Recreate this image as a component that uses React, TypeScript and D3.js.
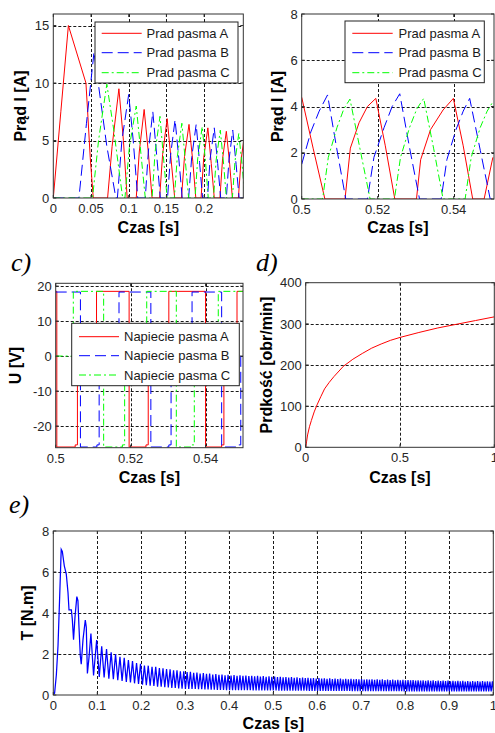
import { useEffect, useRef } from "react";
import * as d3 from "d3";

type Pt = [number, number];

// a) phase currents during start-up [s, A]
const currentA_start: Pt[] = [
  [0, 0], [0.01, 7.5], [0.02, 15], [0.0433, 10], [0.046, 7], [0.049, 3.5], [0.053, 0],
  [0.072, 0], [0.078, 4.5], [0.087, 9.5], [0.093, 5], [0.098, 0],
  [0.11, 0], [0.114, 4], [0.1205, 7.7], [0.126, 4], [0.131, 0],
  [0.141, 0], [0.145, 3.8], [0.151, 6.9], [0.156, 3.5], [0.161, 0],
  [0.17, 0], [0.174, 3.6], [0.18, 6.4], [0.185, 3.2], [0.189, 0],
  [0.196, 0], [0.1995, 3.5], [0.205, 6.1], [0.2095, 3], [0.2135, 0],
  [0.221, 0], [0.2245, 3.4], [0.2295, 5.8], [0.234, 2.9], [0.2375, 0],
  [0.2455, 0], [0.249, 3.3], [0.2535, 5.4],
];
const currentB_start: Pt[] = [
  [0, 0], [0.034, 0], [0.044, 6.5], [0.054, 12.7], [0.06, 9.8], [0.071, 4.5], [0.083, 0],
  [0.085, 0], [0.091, 5], [0.1, 9.0], [0.106, 5], [0.112, 0],
  [0.122, 0], [0.126, 4], [0.132, 7.5], [0.137, 3.8], [0.142, 0],
  [0.1515, 0], [0.1555, 3.7], [0.1615, 6.8], [0.1665, 3.4], [0.171, 0],
  [0.1795, 0], [0.1835, 3.5], [0.1895, 6.4], [0.194, 3.1], [0.198, 0],
  [0.2045, 0], [0.208, 3.4], [0.2135, 6.1], [0.218, 3], [0.222, 0],
  [0.2295, 0], [0.233, 3.3], [0.238, 5.9], [0.2425, 2.9], [0.2465, 0],
  [0.2535, 0],
];
const currentC_start: Pt[] = [
  [0, 0], [0.052, 0], [0.06, 5], [0.071, 9.9], [0.08, 6], [0.092, 0],
  [0.095, 0], [0.101, 4.5], [0.11, 8.0], [0.116, 4], [0.122, 0],
  [0.131, 0], [0.135, 4], [0.1415, 7.1], [0.146, 3.6], [0.151, 0],
  [0.1605, 0], [0.1645, 3.6], [0.1705, 6.5], [0.175, 3.3], [0.1795, 0],
  [0.188, 0], [0.1915, 3.4], [0.1975, 6.2], [0.202, 3.1], [0.2055, 0],
  [0.2125, 0], [0.216, 3.3], [0.2215, 5.9], [0.226, 2.9], [0.2295, 0],
  [0.2375, 0], [0.241, 3.2], [0.246, 5.6], [0.2505, 2.8], [0.2535, 0.5],
];

// b) phase currents in steady state [s, A]
const currentA_steady: Pt[] = [
  [0.5, 4.4], [0.503, 2.2], [0.5061, 0], [0.5114, 0], [0.5128, 2.2], [0.5151, 3.3], [0.5173, 4.0],
  [0.5195, 4.35], [0.522, 2.3], [0.5245, 0], [0.5302, 0], [0.5313, 1.7], [0.5339, 3.0],
  [0.5372, 3.85], [0.5399, 4.35], [0.5425, 2.3], [0.545, 0], [0.548, 0], [0.5503, 1.8],
];
const currentB_steady: Pt[] = [
  [0.5, 1.5], [0.5024, 2.9], [0.5046, 3.8], [0.5068, 4.5], [0.5092, 2.2], [0.5116, 0],
  [0.5173, 0], [0.519, 1.8], [0.5217, 3.1], [0.5238, 4.0], [0.5258, 4.55], [0.5284, 2.2], [0.531, 0],
  [0.5367, 0], [0.5382, 1.7], [0.5406, 3.0], [0.5425, 3.8], [0.5442, 4.35], [0.547, 2.1], [0.5496, 0],
  [0.5503, 0],
];
const currentC_steady: Pt[] = [
  [0.5, 0], [0.5055, 0], [0.507, 1.8], [0.5093, 3.1], [0.5111, 3.9], [0.5127, 4.32], [0.5153, 2.2], [0.518, 0],
  [0.5244, 0], [0.526, 1.8], [0.5284, 3.1], [0.5303, 3.9], [0.5321, 4.35], [0.5347, 2.2], [0.5372, 0],
  [0.543, 0], [0.5446, 1.8], [0.547, 3.1], [0.5488, 3.8], [0.5503, 4.2],
];

// c) phase voltages: switching instants [s, V], each level held until the next one
const voltageA: Pt[] = [
  [0.5, 18.5], [0.5003, -26], [0.5052, -25.4], [0.5058, 0], [0.5109, 18.5], [0.5196, -26],
  [0.5241, -25.4], [0.5247, 0], [0.5302, 18.5], [0.54, -26], [0.5443, -25.4], [0.5449, 0],
  [0.5484, 18.5], [0.5503, 18.5],
];
const voltageB: Pt[] = [
  [0.5, 18.3], [0.5066, -26], [0.511, -25.4], [0.5116, 0], [0.5169, 18.3], [0.5254, -26],
  [0.5302, -25.4], [0.5308, 0], [0.5364, 18.3], [0.5443, -26], [0.5488, -25.4], [0.5494, 0],
  [0.5503, 0],
];
const voltageC: Pt[] = [
  [0.5, 0], [0.5047, 18.5], [0.5128, -26], [0.5178, -25.4], [0.5184, 0], [0.5243, 18.5],
  [0.5322, -26], [0.5364, -25.4], [0.537, 0], [0.5434, 18.5], [0.5503, 18.5],
];

// d) rotor speed [s, obr/min]
const speed: Pt[] = [
  [0, 0], [0.005, 15], [0.01, 30], [0.02, 50], [0.03, 65], [0.045, 86], [0.06, 103], [0.08, 123],
  [0.1, 142], [0.125, 158], [0.15, 172], [0.2, 197], [0.25, 214], [0.3, 228], [0.35, 241],
  [0.4, 251], [0.45, 260], [0.5, 267], [0.6, 279], [0.7, 290], [0.8, 299], [0.9, 308], [1.0, 317],
];

// e) torque: start-up transient [s, N.m]
const torqueStart: Pt[] = [
  [0, 0], [0.003, 0.1], [0.007, 1.0], [0.0107, 2.4], [0.0145, 4.8], [0.018, 7.1], [0.0205, 7.0],
  [0.025, 6.3], [0.0295, 5.9], [0.0334, 5.0], [0.0357, 4.15], [0.041, 4.15], [0.0432, 3.7],
  [0.046, 2.7], [0.0493, 3.8], [0.0535, 4.8], [0.056, 4.6], [0.0584, 3.3], [0.0614, 1.9],
  [0.0635, 1.5], [0.0675, 2.7], [0.0727, 3.66], [0.075, 3.3], [0.0775, 1.05], [0.081, 1.8],
  [0.0855, 3.0], [0.0915, 0.95], [0.0985, 2.68], [0.1045, 0.88],
];
// e) torque ripple: [time of peak, peak, following trough]
const torqueRipple: [number, number, number][] = [
  [0.11, 2.38, 0.86], [0.121, 2.24, 0.8], [0.1315, 2.08, 0.77], [0.1415, 2.0, 0.72], [0.1515, 1.86, 0.69],
  [0.1612, 1.82, 0.64], [0.1707, 1.7, 0.61], [0.18, 1.66, 0.57], [0.1892, 1.56, 0.54], [0.1982, 1.52, 0.5],
  [0.2071, 1.44, 0.48], [0.2158, 1.43, 0.45], [0.2244, 1.38, 0.44], [0.2328, 1.37, 0.41], [0.2411, 1.31, 0.4],
  [0.2493, 1.3, 0.38], [0.2574, 1.26, 0.37], [0.2654, 1.25, 0.35], [0.2733, 1.2, 0.34], [0.2811, 1.21, 0.32],
  [0.2888, 1.15, 0.31], [0.2965, 1.16, 0.3], [0.3041, 1.12, 0.3], [0.3116, 1.13, 0.29], [0.319, 1.08, 0.29],
  [0.3264, 1.1, 0.28], [0.3337, 1.05, 0.28], [0.341, 1.07, 0.27], [0.3482, 1.03, 0.27], [0.3553, 1.05, 0.26],
  [0.3624, 1.0, 0.26], [0.3694, 1.02, 0.25], [0.3764, 0.98, 0.25], [0.3834, 1.0, 0.25], [0.3903, 0.96, 0.24],
  [0.3972, 0.98, 0.24], [0.404, 0.95, 0.24], [0.4108, 0.97, 0.24], [0.4176, 0.94, 0.23], [0.4243, 0.96, 0.23],
  [0.431, 0.93, 0.23], [0.4377, 0.95, 0.23], [0.4444, 0.92, 0.23], [0.451, 0.94, 0.22], [0.4576, 0.91, 0.22],
  [0.4642, 0.93, 0.22], [0.4707, 0.9, 0.22], [0.4772, 0.92, 0.22], [0.4837, 0.89, 0.22], [0.4902, 0.91, 0.22],
  [0.4967, 0.89, 0.22], [0.5031, 0.9, 0.22], [0.5095, 0.87, 0.21], [0.5159, 0.89, 0.21], [0.5223, 0.86, 0.21],
  [0.5287, 0.88, 0.21], [0.535, 0.85, 0.21], [0.5413, 0.87, 0.21], [0.5476, 0.84, 0.21], [0.5539, 0.86, 0.21],
  [0.5602, 0.83, 0.21], [0.5665, 0.85, 0.21], [0.5727, 0.82, 0.21], [0.5789, 0.84, 0.2], [0.5851, 0.81, 0.2],
  [0.5913, 0.83, 0.2], [0.5975, 0.8, 0.2], [0.6037, 0.82, 0.2], [0.6099, 0.8, 0.2], [0.616, 0.81, 0.2],
  [0.6221, 0.79, 0.2], [0.6282, 0.81, 0.2], [0.6343, 0.78, 0.2], [0.6404, 0.8, 0.2], [0.6465, 0.78, 0.2],
  [0.6526, 0.8, 0.2], [0.6586, 0.77, 0.2], [0.6646, 0.79, 0.2], [0.6706, 0.77, 0.2], [0.6766, 0.79, 0.19],
  [0.6826, 0.76, 0.19], [0.6886, 0.78, 0.19], [0.6946, 0.76, 0.19], [0.7006, 0.78, 0.19], [0.7066, 0.75, 0.19],
  [0.7125, 0.77, 0.19], [0.7184, 0.75, 0.19], [0.7243, 0.77, 0.19], [0.7302, 0.74, 0.19], [0.7361, 0.76, 0.19],
  [0.742, 0.74, 0.19], [0.7479, 0.76, 0.19], [0.7538, 0.73, 0.19], [0.7597, 0.75, 0.19], [0.7656, 0.73, 0.19],
  [0.7714, 0.75, 0.19], [0.7772, 0.72, 0.19], [0.783, 0.74, 0.19], [0.7888, 0.72, 0.19], [0.7946, 0.74, 0.18],
  [0.8004, 0.71, 0.18], [0.8062, 0.73, 0.18], [0.812, 0.71, 0.18], [0.8177, 0.73, 0.18], [0.8234, 0.7, 0.18],
  [0.8291, 0.72, 0.18], [0.8348, 0.7, 0.18], [0.8405, 0.72, 0.18], [0.8462, 0.69, 0.18], [0.8519, 0.71, 0.18],
  [0.8576, 0.69, 0.18], [0.8633, 0.71, 0.18], [0.869, 0.68, 0.18], [0.8747, 0.7, 0.18], [0.8803, 0.68, 0.18],
  [0.8859, 0.7, 0.18], [0.8915, 0.68, 0.18], [0.8971, 0.7, 0.18], [0.9027, 0.67, 0.18], [0.9083, 0.69, 0.18],
  [0.9139, 0.67, 0.18], [0.9195, 0.69, 0.18], [0.9251, 0.67, 0.17], [0.9307, 0.69, 0.17], [0.9363, 0.66, 0.17],
  [0.9419, 0.68, 0.17], [0.9475, 0.66, 0.17], [0.9531, 0.68, 0.17], [0.9587, 0.66, 0.17], [0.9643, 0.68, 0.17],
  [0.9699, 0.66, 0.17], [0.9755, 0.68, 0.17], [0.9811, 0.65, 0.17], [0.9867, 0.67, 0.17], [0.9923, 0.65, 0.17],
  [0.9979, 0.67, 0.17],
];

const currentLegend = ["Prad pasma A", "Prad pasma B", "Prad pasma C"];
const voltageLegend = ["Napiecie pasma A", "Napiecie pasma B", "Napiecie pasma C"];

const ticksX_start = [0, 0.05, 0.1, 0.15, 0.2];
const ticksX_steady = [0.5, 0.52, 0.54];
const ticksX_speed = [0, 0.5, 1];
const ticksX_torque = [0, 0.1, 0.2, 0.3, 0.4, 0.5, 0.6, 0.7, 0.8, 0.9, 1];
const ticksY_start = [0, 5, 10, 15];
const ticksY_steady = [0, 2, 4, 6, 8];
const ticksY_voltage = [-20, -10, 0, 10, 20];
const ticksY_speed = [0, 100, 200, 300, 400];
const ticksY_torque = [0, 2, 4, 6, 8];

const SANS = "'Liberation Sans', Arial, Helvetica, sans-serif";
const SERIF = "'Liberation Serif', 'Times New Roman', serif";
const RED = "#ff0000";
const BLUE = "#0000ff";
const GREEN = "#00ff00";
const DASH_B = "11,5";
const DASH_C = "7,3,2,3";

type Sel = d3.Selection<any, unknown, null, undefined>;

interface Panel {
  id: string;
  left: number; right: number; top: number; bottom: number;
  xDomain: [number, number]; yDomain: [number, number];
  xTicks: number[]; yTicks: number[];
  xLabel: string; yLabel: string;
  xLabelY: number; yLabelX: number;
}

function App() {
  const ref = useRef<SVGSVGElement>(null);

  useEffect(() => {
    const svg = d3.select(ref.current);
    svg.selectAll("*").remove();
    const defs = svg.append("defs");

    // grid, clip area and scales for one subplot
    function startPanel(p: Panel) {
      const x = d3.scaleLinear().domain(p.xDomain).range([p.left, p.right]);
      const y = d3.scaleLinear().domain(p.yDomain).range([p.bottom, p.top]);
      const g = svg.append("g");
      g.append("rect")
        .attr("x", p.left).attr("y", p.top)
        .attr("width", p.right - p.left).attr("height", p.bottom - p.top)
        .attr("fill", "#fff");
      const snap = (v: number) => Math.round(v) + 0.5;
      p.xTicks.forEach((t) => {
        const px = x(t);
        if (px - p.left < 2 || p.right - px < 2) return;
        g.append("line")
          .attr("x1", snap(px)).attr("x2", snap(px))
          .attr("y1", p.top).attr("y2", p.bottom)
          .attr("stroke", "#1a1a1a").attr("stroke-dasharray", "3,2");
      });
      p.yTicks.forEach((t) => {
        const py = y(t);
        if (py - p.top < 1.5 || p.bottom - py < 2) return;
        g.append("line")
          .attr("x1", p.left).attr("x2", p.right)
          .attr("y1", snap(py)).attr("y2", snap(py))
          .attr("stroke", "#1a1a1a").attr("stroke-dasharray", "3,2");
      });
      defs.append("clipPath").attr("id", p.id)
        .append("rect")
        .attr("x", p.left).attr("y", p.top)
        .attr("width", p.right - p.left).attr("height", p.bottom - p.top);
      const plot = g.append("g").attr("clip-path", `url(#${p.id})`);
      return { x, y, g, plot };
    }

    function finishPanel(p: Panel, x: d3.ScaleLinear<number, number>, y: d3.ScaleLinear<number, number>, g: Sel) {
      g.append("rect")
        .attr("x", p.left).attr("y", p.top)
        .attr("width", p.right - p.left).attr("height", p.bottom - p.top)
        .attr("fill", "none").attr("stroke", "#333");
      p.xTicks.forEach((t) => {
        g.append("line").attr("x1", x(t)).attr("x2", x(t)).attr("y1", p.bottom).attr("y2", p.bottom - 3).attr("stroke", "#333");
        g.append("line").attr("x1", x(t)).attr("x2", x(t)).attr("y1", p.top).attr("y2", p.top + 3).attr("stroke", "#333");
        g.append("text")
          .attr("x", x(t)).attr("y", p.bottom + 15)
          .attr("text-anchor", "middle")
          .attr("font-family", SANS).attr("font-size", 13).attr("fill", "#262626")
          .text(String(t));
      });
      p.yTicks.forEach((t) => {
        g.append("line").attr("x1", p.left).attr("x2", p.left + 3).attr("y1", y(t)).attr("y2", y(t)).attr("stroke", "#333");
        g.append("line").attr("x1", p.right).attr("x2", p.right - 3).attr("y1", y(t)).attr("y2", y(t)).attr("stroke", "#333");
        g.append("text")
          .attr("x", p.left - 4).attr("y", y(t)).attr("dy", "0.36em")
          .attr("text-anchor", "end")
          .attr("font-family", SANS).attr("font-size", 13).attr("fill", "#262626")
          .text(String(t));
      });
      g.append("text")
        .attr("x", (p.left + p.right) / 2).attr("y", p.xLabelY)
        .attr("text-anchor", "middle")
        .attr("font-family", SANS).attr("font-size", 16).attr("font-weight", "bold")
        .text(p.xLabel);
      g.append("text")
        .attr("transform", `translate(${p.yLabelX},${(p.top + p.bottom) / 2}) rotate(-90)`)
        .attr("dy", "0.36em")
        .attr("text-anchor", "middle")
        .attr("font-family", SANS).attr("font-size", 16).attr("font-weight", "bold")
        .text(p.yLabel);
    }

    function drawLine(plot: Sel, x: d3.ScaleLinear<number, number>, y: d3.ScaleLinear<number, number>,
      data: Pt[], color: string, dash: string | null, curve: d3.CurveFactory = d3.curveLinear, width = 1) {
      const line = d3.line<Pt>().x((d) => x(d[0])).y((d) => y(d[1])).curve(curve);
      plot.append("path")
        .datum(data)
        .attr("d", line)
        .attr("fill", "none")
        .attr("stroke", color)
        .attr("stroke-width", width)
        .attr("stroke-dasharray", dash);
    }

    function legend(box: [number, number, number, number], rows: number[], lineX: [number, number], textX: number, labels: string[]) {
      const g = svg.append("g");
      g.append("rect")
        .attr("x", box[0]).attr("y", box[1])
        .attr("width", box[2] - box[0]).attr("height", box[3] - box[1])
        .attr("fill", "#fff").attr("stroke", "#222");
      const colors = [RED, BLUE, GREEN];
      const dashes = [null, DASH_B, DASH_C];
      labels.forEach((lab, i) => {
        g.append("line")
          .attr("x1", lineX[0]).attr("x2", lineX[1])
          .attr("y1", rows[i]).attr("y2", rows[i])
          .attr("stroke", colors[i]).attr("stroke-dasharray", dashes[i]);
        g.append("text")
          .attr("x", textX).attr("y", rows[i]).attr("dy", "0.36em")
          .attr("font-family", SANS).attr("font-size", 13).attr("fill", "#1a1a1a")
          .text(lab);
      });
    }

    function panelTag(x: number, y: number, label: string) {
      svg.append("text")
        .attr("x", x).attr("y", y)
        .attr("font-family", SERIF).attr("font-style", "italic").attr("font-size", 26)
        .text(label);
    }

    // a) start-up currents
    const pa: Panel = {
      id: "clipA", left: 53.3, right: 243.3, top: 14, bottom: 198,
      xDomain: [0, 0.252], yDomain: [0, 16],
      xTicks: ticksX_start, yTicks: ticksY_start,
      xLabel: "Czas [s]", yLabel: "Prąd I [A]", xLabelY: 233, yLabelX: 20,
    };
    {
      const { x, y, g, plot } = startPanel(pa);
      drawLine(plot, x, y, currentA_start, RED, null);
      drawLine(plot, x, y, currentB_start, BLUE, DASH_B);
      drawLine(plot, x, y, currentC_start, GREEN, DASH_C);
      finishPanel(pa, x, y, g);
    }
    legend([95, 22, 238, 83], [33.3, 52.7, 72.7], [101.7, 141.7], 146.5, currentLegend);

    // b) steady-state currents
    const pb: Panel = {
      id: "clipB", left: 301.7, right: 494, top: 14, bottom: 199,
      xDomain: [0.5, 0.5506], yDomain: [0, 8],
      xTicks: ticksX_steady, yTicks: ticksY_steady,
      xLabel: "Czas [s]", yLabel: "Prąd I [A]", xLabelY: 233, yLabelX: 277,
    };
    {
      const { x, y, g, plot } = startPanel(pb);
      drawLine(plot, x, y, currentA_steady, RED, null);
      drawLine(plot, x, y, currentB_steady, BLUE, DASH_B);
      drawLine(plot, x, y, currentC_steady, GREEN, DASH_C);
      finishPanel(pb, x, y, g);
    }
    legend([345, 21, 484.3, 82.7], [33.3, 52.7, 72.7], [352.3, 392.7], 398.5, currentLegend);

    // c) phase voltages
    const pc: Panel = {
      id: "clipC", left: 55.7, right: 243, top: 283.3, bottom: 447.7,
      xDomain: [0.5, 0.55], yDomain: [-26.2, 20.8],
      xTicks: ticksX_steady, yTicks: ticksY_voltage,
      xLabel: "Czas [s]", yLabel: "U [V]", xLabelY: 483, yLabelX: 15.5,
    };
    {
      const { x, y, g, plot } = startPanel(pc);
      drawLine(plot, x, y, voltageA, RED, null, d3.curveStepAfter);
      drawLine(plot, x, y, voltageB, BLUE, DASH_B, d3.curveStepAfter);
      drawLine(plot, x, y, voltageC, GREEN, DASH_C, d3.curveStepAfter);
      finishPanel(pc, x, y, g);
    }
    legend([71.7, 323.3, 239.3, 385.7], [336.7, 355.7, 375], [79, 119], 124, voltageLegend);
    panelTag(11, 271, "c)");

    // d) speed
    const pd: Panel = {
      id: "clipD", left: 305.7, right: 494.3, top: 282.7, bottom: 447.3,
      xDomain: [0, 1], yDomain: [0, 400],
      xTicks: ticksX_speed, yTicks: ticksY_speed,
      xLabel: "Czas [s]", yLabel: "Prdkość [obr/min]", xLabelY: 483, yLabelX: 266,
    };
    {
      const { x, y, g, plot } = startPanel(pd);
      drawLine(plot, x, y, speed, RED, null);
      finishPanel(pd, x, y, g);
    }
    panelTag(256, 271, "d)");

    // e) torque
    const pe: Panel = {
      id: "clipE", left: 53.3, right: 493.3, top: 531, bottom: 695,
      xDomain: [0, 1], yDomain: [0, 8],
      xTicks: ticksX_torque, yTicks: ticksY_torque,
      xLabel: "Czas [s]", yLabel: "T [N.m]", xLabelY: 729, yLabelX: 27.5,
    };
    {
      const { x, y, g, plot } = startPanel(pe);
      const ripplePts: Pt[] = [];
      torqueRipple.forEach(([t, peak, trough], i) => {
        const next = i < torqueRipple.length - 1 ? torqueRipple[i + 1][0] : t + 0.0056;
        ripplePts.push([t, peak], [(t + next) / 2, trough]);
      });
      drawLine(plot, x, y, torqueStart.concat(ripplePts), BLUE, null, d3.curveLinear, 1.25);
      finishPanel(pe, x, y, g);
    }
    panelTag(9, 513, "e)");
  }, []);

  return (
    <svg
      ref={ref}
      width={495}
      height={733}
      style={{ position: "absolute", left: 0, top: 0, background: "#fff" }}
    />
  );
}

export default App;
